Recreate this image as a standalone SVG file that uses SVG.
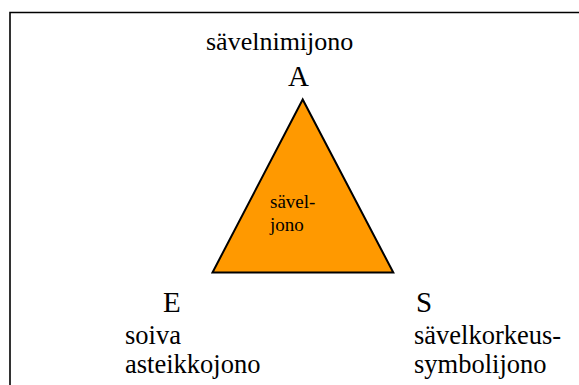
<svg xmlns="http://www.w3.org/2000/svg" width="579" height="385" viewBox="0 0 579 385">
  <style>
    .lbl { font-family: "Liberation Serif", "Times New Roman", serif; fill: #000; }
    .big { font-size: 29px; }
    .mid { font-size: 26.5px; }
    .small { font-size: 19px; }
  </style>
  <rect x="0" y="0" width="579" height="385" fill="#fff"/>
  <!-- outer frame, continues past the right and bottom edges -->
  <path d="M10 400 V12.5 H600" fill="none" stroke="#000" stroke-width="1.6"/>

  <g id="connectors"/>

  <g id="triangle">
    <polygon points="302.7,99.5 212.5,272.5 393.3,272.5" fill="#ff9900" stroke="#000" stroke-width="2"/>
    <text class="lbl small" x="270" y="208">sävel-</text>
    <text class="lbl small" x="270" y="231">jono</text>
  </g>

  <g id="node-A">
    <text class="lbl" font-size="26" x="206" y="50">sävelnimijono</text>
    <text class="lbl big" x="288" y="86">A</text>
  </g>

  <g id="node-E">
    <text class="lbl big" x="163" y="312">E</text>
    <text class="lbl mid" x="125" y="344">soiva</text>
    <text class="lbl mid" x="125" y="373">asteikkojono</text>
  </g>

  <g id="node-S">
    <text class="lbl big" x="416" y="312">S</text>
    <text class="lbl mid" x="414" y="344">sävelkorkeus-</text>
    <text class="lbl mid" x="414" y="373">symbolijono</text>
  </g>
</svg>
